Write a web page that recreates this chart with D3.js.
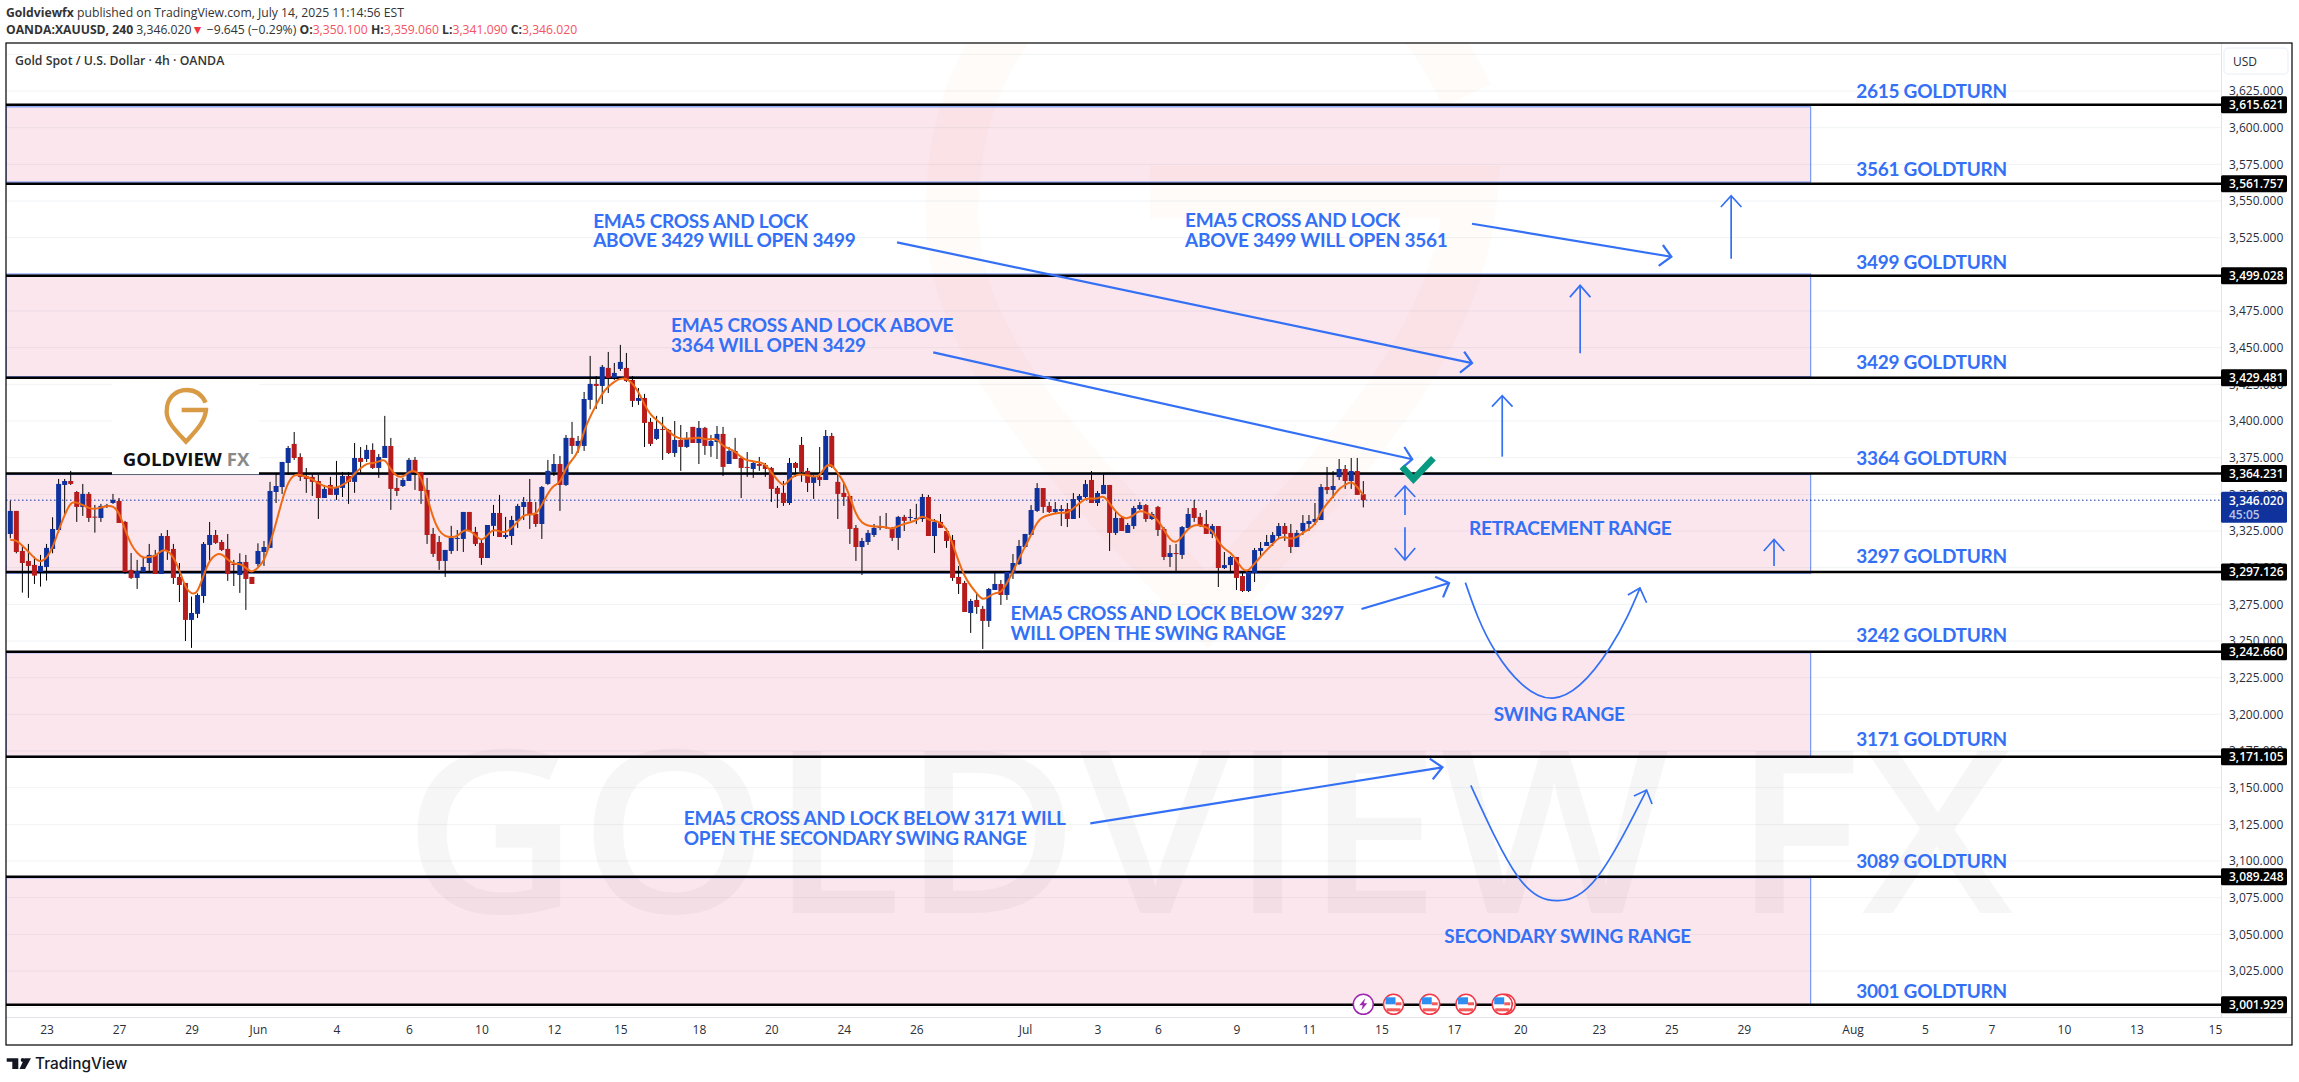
<!DOCTYPE html>
<html>
<head>
<title>XAUUSD 4h GOLDTURN levels</title>
<script src="https://d3js.org/d3.v7.min.js"></script>
<style>
    body { margin: 0; background: #fff; overflow: hidden; }
    svg { display: block; font-family: 'Open Sans', sans-serif; }
    .note { font-family: 'Lato', sans-serif; font-size: 19px; font-weight: 700; letter-spacing: -0.25px; fill: #3470f5; dominant-baseline: middle; }
    .axis text { font-family: 'Open Sans', sans-serif; font-size: 12px; fill: #2a2e39; }
</style>
</head>
<body>
<svg id="chart" width="2299" height="1082"></svg>
<script>
// candles (4h bars, May 22 to Jul 14)
const opens = [
3323,3338.7,3311.4,3304.6,3301.9,3297.1,3300.5,3312.8,3325.7,3356.4,
3359.1,3351.6,3341.4,3350.3,3334.8,3333.9,3342.1,3344.1,3345.5,3331.2,
3298.5,3293,3297.1,3303.2,3308.7,3295.7,3321.6,3312.8,3293.7,3289.6,
3264.4,3268.5,3280.7,3315.5,3322.3,3317.5,3312.8,3302.5,3295,3303.9,
3293.7,3302.5,3310.7,3313.5,3351.6,3355,3371.4,3384.4,3375.5,3362.5,
3361.9,3359.1,3347.5,3356.4,3349.6,3354.4,3362.5,3358.5,3374.8,3374.1,
3380.3,3368,3374.8,3383,3354.4,3355.7,3359.1,3373.5,3365.3,3353,
3323,3317.5,3304.6,3311.4,3319.6,3319.6,3338,3324.4,3316.9,3306.6,
3328.5,3337.3,3320.9,3321.6,3331.9,3341.4,3344.8,3336.6,3329.8,3357.1,
3365.3,3370.7,3356.4,3388.5,3383,3383,3414.4,3425.3,3423.9,3436.2,
3429.4,3435.5,3436.2,3428,3413.7,3415.7,3399.4,3387.8,3394.6,3393.9,
3378.2,3387.1,3382.3,3396,3385,3395.3,3383,3385.7,3391.2,3370.7,
3379.6,3374.8,3368.7,3367.3,3370.7,3370,3368,3354.4,3351,3344.1,
3371.4,3383.7,3366,3357.8,3361.9,3359.8,3389.8,3358.5,3351,3348.9,
3327.1,3314.1,3317.5,3322.3,3327.1,3327.8,3327.1,3320.3,3334.6,3333.9,
3333.5,3333.2,3348.2,3321.6,3331.2,3325,3318.9,3293.7,3289.6,3269.1,
3278,3271.9,3263.7,3284.8,3288.9,3281.4,3296.4,3302.5,3314.1,3322.3,
3338.7,3354.3,3342.1,3338,3338.7,3340,3333.2,3346.2,3348.2,3359.8,
3344.1,3350.2,3356.4,3323.7,3333.9,3323.7,3328.4,3340,3342.7,3333.2,
3341.4,3326.4,3307.3,3310,3308.7,3327,3340.7,3334.6,3329.8,3323,
3328.4,3299.8,3301.8,3307.3,3294.3,3284.1,3296.4,3311.4,3314.8,3316.8,
3321.6,3328.4,3323.7,3314.1,3325,3329.8,3331.2,3332.5,3355,3353,
3361.8,3367.3,3359.1,3365.9,3350.1];
const highs = [
3345.7,3338.7,3315.5,3316.2,3307.5,3308.7,3316.2,3334.4,3360.5,3360.5,
3366,3352.3,3357.1,3351.6,3342.8,3343.5,3343.5,3350.3,3347.5,3331.9,
3310,3305.3,3307.5,3316.2,3312.1,3323.5,3325.7,3316.2,3303.2,3289.6,
3280.3,3282.5,3317.5,3331.2,3325.7,3318.9,3323,3305.3,3309.8,3308.7,
3293.7,3316.6,3318.2,3358.5,3363.9,3372.1,3383,3392.5,3378,3368,
3363.9,3363.2,3356.4,3361.9,3372.8,3365.3,3365.3,3385,3382.3,3383.7,
3384.8,3377.5,3403.5,3388.5,3361.2,3361.2,3374.8,3375.5,3365.3,3361.2,
3327.1,3321.6,3312.1,3328.5,3325.7,3338,3338,3327.8,3319.6,3329.1,
3342.8,3349.6,3334.6,3335.3,3343.5,3348.2,3360.5,3344.8,3355.7,3373.5,
3377.5,3376.2,3390.5,3399.4,3389.8,3419.8,3444.4,3430.7,3438.2,3447.1,
3439.6,3451.9,3446.4,3430.7,3422.5,3418.5,3402.1,3403.5,3402.8,3394.6,
3400,3397.3,3392.5,3396,3400,3396,3390.5,3396.6,3396,3382.3,
3388.5,3376.2,3378.9,3372.8,3375.5,3371.4,3368.7,3355.7,3359.1,3374.8,
3372.1,3389.1,3368,3363.2,3382.3,3393.9,3391.9,3363.9,3357.8,3348.9,
3329.1,3320.3,3325.7,3329.8,3335.3,3337.3,3327.8,3335.3,3336,3340,
3343.5,3350.3,3349.6,3333.2,3336.6,3327.1,3322.3,3301.2,3291,3278.7,
3282.8,3273.9,3286.2,3297.1,3291.6,3297.1,3309.3,3318.9,3323,3342.7,
3357.7,3354.3,3344.8,3344.8,3342.7,3344.1,3350.9,3350.2,3359.8,3365.9,
3352.3,3363.9,3356.4,3338.7,3334.6,3330.5,3342.1,3344.8,3343.4,3338,
3342.1,3327.7,3315.5,3316.2,3328.4,3340.7,3346.2,3337.3,3339.3,3329.8,
3328.4,3310.7,3308,3307.3,3297.7,3298.4,3313.4,3317.5,3322.3,3324.3,
3330.5,3330.5,3329.8,3325.7,3335.9,3335.9,3344.1,3357,3368.7,3365.9,
3374.1,3370,3374.8,3374.8,3359.06];
const lows = [
3320,3309.8,3283,3279.4,3288.9,3287.1,3291.2,3309.8,3323.9,3336.6,
3356.4,3331.2,3335.3,3331.2,3323.9,3331.2,3340.7,3343.5,3330.5,3295.7,
3292.3,3285.5,3297.1,3297.1,3295.7,3295.7,3305.3,3288.9,3276.6,3250,
3245.3,3265.7,3276,3304.6,3316.2,3311.4,3291,3287.5,3282.8,3271.2,
3288.9,3300.7,3301.2,3313.5,3344.1,3350.3,3363.2,3373.5,3359.1,3351,
3348.9,3333.2,3347.5,3349.6,3346.2,3348.2,3343.5,3351,3364.6,3372.1,
3367.3,3361.2,3374.8,3339.4,3348.9,3355,3359.1,3353,3343.5,3316.2,
3307.3,3298.5,3293.7,3309.4,3311.4,3310.7,3324.4,3314.8,3301.9,3306.6,
3321.6,3320.9,3319.6,3315.5,3327.1,3332.5,3326.4,3327.8,3319.6,3356.4,
3362.5,3338.7,3355.7,3377.5,3378.2,3379.6,3408,3408.2,3411.6,3419.1,
3428,3434.1,3426.6,3409.6,3411,3382.3,3383,3387.1,3373.5,3377.5,
3375.5,3366,3381.6,3385,3370.7,3376.9,3375.5,3374.1,3362.5,3370.7,
3374.1,3347.5,3361.9,3361.2,3366,3361.9,3344.8,3340.7,3342.1,3342.8,
3361.9,3358.5,3351.6,3346.9,3355.7,3359.8,3368,3333.2,3342.1,3316.2,
3304.6,3295,3315.5,3320.9,3325.7,3326.4,3318.2,3312.1,3325,3331.9,
3329.8,3331.2,3321.6,3310,3327.1,3313.5,3291,3282.1,3269.8,3255.5,
3268.5,3244.6,3259.6,3284.8,3274.6,3278,3292.3,3301.8,3314.1,3322.3,
3338,3337.3,3337.3,3336.6,3328.4,3327.7,3333.2,3333.9,3347.5,3344.1,
3342.1,3350.2,3311.4,3322.3,3325,3323.7,3326.4,3339.3,3331.2,3332.5,
3321.6,3305.2,3300.5,3297.1,3305.9,3327,3331.2,3327.7,3323,3320.2,
3286.8,3299.1,3297.7,3284.8,3283.4,3283.4,3290.2,3308,3314.8,3314.8,
3320.2,3318.2,3310,3314.1,3322.3,3325,3329.1,3332.5,3350.2,3347.5,
3359.8,3353.7,3353.7,3349.6,3341.09];
const closes = [
3338.7,3310.7,3303.2,3301.2,3294.6,3301.2,3313.5,3326.4,3357.1,3359.1,
3357.1,3341.4,3350.3,3333.9,3334.4,3342.1,3342.5,3346.2,3330.5,3297.1,
3293,3297.8,3300.5,3308.7,3295.7,3321.6,3311.4,3293,3288.2,3264.4,
3269.1,3281.4,3316.2,3322.3,3316.9,3312.1,3295.7,3302.1,3303.9,3292.3,
3288.9,3311.4,3314.1,3352.3,3355.7,3372.1,3381.6,3374.8,3361.9,3360.5,
3358.5,3347.5,3353.7,3349.6,3355,3362.5,3358.5,3374.8,3372.1,3380.3,
3368,3375.5,3383,3353.7,3352.3,3359.8,3373.5,3364.6,3352.3,3322.3,
3309.4,3304.6,3312.1,3320.3,3320.3,3338,3325,3316.2,3306.6,3329.1,
3337.3,3320.9,3322.3,3332.5,3342.1,3344.8,3336,3329.8,3355,3366,
3370.7,3356.4,3388.5,3383,3386.4,3415,3425.3,3423.9,3436.9,3429.4,
3432.8,3440.3,3427.3,3413.7,3415.7,3398.7,3384.4,3394.6,3393.9,3378.2,
3387.1,3382.3,3388.5,3385,3395.3,3383,3386.4,3391.2,3368.7,3379.6,
3374.1,3368,3368,3371.4,3369.4,3367.3,3353.7,3350.3,3344.1,3371.4,
3368,3365.3,3357.8,3361.9,3359.8,3389.8,3368.7,3350.3,3348.2,3326.4,
3314.1,3318.2,3323.7,3327.1,3327.8,3327.1,3320.3,3334.6,3331.9,3334.6,
3333.9,3348.2,3321.6,3331.2,3327.1,3318.2,3293,3288.9,3269.8,3277.3,
3273.2,3263.7,3285.5,3288.9,3281.4,3297.1,3303.2,3314.8,3323,3339.3,
3354.3,3341.4,3338,3340,3340,3333.2,3346.8,3348.9,3357,3344.1,
3350.9,3356.4,3323.7,3333.9,3325,3329.1,3340.7,3342.7,3333.2,3336.6,
3325.7,3307.3,3310,3309.3,3327.7,3336.6,3333.9,3328.4,3323,3328.4,
3299.8,3301.8,3307.3,3293,3284.1,3297.1,3312,3313.4,3317.5,3322.3,
3328.4,3323,3314.1,3323.7,3330.5,3331.8,3333.2,3355,3353,3355.7,
3367.3,3359.1,3365.9,3349.6,3346.02];
const ema5 = [
3318.9,3318.9,3315,3311,3306.4,3303.5,3306.4,3313.2,3325.7,3336,
3345,3344.6,3342.8,3340.5,3339.8,3341,3342.1,3342.1,3338.2,3325.7,
3315.5,3309.8,3306.4,3307.5,3307.5,3312.1,3312.1,3307.5,3298.5,3286,
3281.9,3282.5,3295,3305.3,3309.1,3309.8,3305.3,3302.3,3303,3300,
3296.2,3300,3304.1,3316.6,3330.3,3346.2,3358.7,3363.7,3363.2,3362.1,
3360.3,3357.5,3355.3,3354.8,3354.1,3356.4,3358.7,3364.4,3367.8,3371.2,
3371.2,3372.3,3374.6,3366.6,3362.1,3361.6,3365.5,3366.6,3362.1,3348.5,
3333.7,3324.6,3321.2,3320.7,3321.2,3325.7,3325.7,3322.3,3317.8,3322.3,
3326.4,3324.6,3323.9,3326.9,3331.4,3336,3336.4,3336,3342.8,3350.7,
3356.6,3357.1,3368.5,3373.5,3378,3393.9,3403,3411,3418.9,3423.5,
3426.9,3429.1,3429.1,3425.7,3420,3411,3404.1,3400.7,3397.3,3392.8,
3389.4,3387.8,3387.8,3388.2,3388.9,3387.5,3387.5,3388.2,3382.5,3381.4,
3379.1,3375.3,3373,3372.5,3372.1,3370.7,3364.8,3359.8,3354.8,3360.3,
3363.2,3363.7,3362.8,3362.1,3362.1,3370,3370.7,3364.4,3358.7,3348.5,
3336,3330.3,3328.5,3328,3328,3327.5,3326.2,3328.5,3329.8,3331,
3332.1,3336,3332.5,3332.1,3330.7,3326.9,3316.6,3304.1,3293.9,3287.5,
3282.5,3277.5,3280.3,3283,3282.5,3289.3,3297.3,3306.4,3314.3,3322.3,
3331.4,3334.8,3335.9,3337,3337.7,3337,3340.5,3343.9,3347.3,3347.3,
3346.8,3349.6,3343.9,3338.2,3334.3,3333.2,3335.9,3339.3,3337.5,3335.9,
3332.5,3325.7,3318.9,3316.6,3321.2,3326.8,3329.1,3329.1,3327.5,3325.7,
3317.7,3312.5,3310.5,3305.2,3298.4,3297.3,3303,3307.5,3312,3316.2,
3320.5,3321.2,3319.3,3320.7,3323.9,3326.2,3329.1,3338.2,3343.9,3348.4,
3354.1,3356.4,3359.1,3355.2,3349.6];

// horizontal levels and the pink zones between them
const levels = [3615.621, 3561.757, 3499.028, 3429.481, 3364.231, 3297.126, 3242.66, 3171.105, 3089.248, 3001.929];
const zoneTops = [3614.2, 3500.2, 3363.5, 3242, 3088.6];
const zoneBottoms = [3562.9, 3430.2, 3296.2, 3171.4, 3001.6];
const goldturnNames = ["2615 GOLDTURN", "3561 GOLDTURN", "3499 GOLDTURN", "3429 GOLDTURN", "3364 GOLDTURN", "3297 GOLDTURN", "3242 GOLDTURN", "3171 GOLDTURN", "3089 GOLDTURN", "3001 GOLDTURN"];
const goldturnPrices = [3625, 3571.8, 3509, 3440.2, 3374.8, 3308, 3254.1, 3183.2, 3100.3, 3011.4];
const goldturnBar = 305.6;
const lastPrice = 3346.02;

// axes
const gridPrices = d3.range(3000, 3651, 25);
const priceTicks = d3.range(3025, 3626, 25);
const tickBars = [6, 18, 30, 41, 54, 66, 78, 90, 101, 114, 126, 138, 150, 168, 180, 190, 203, 215, 227, 239, 250, 263, 275, 287, 305, 317, 328, 340, 352, 365];
const tickLabels = ["23", "27", "29", "Jun", "4", "6", "10", "12", "15", "18", "20", "24", "26", "Jul", "3", "6", "9", "11", "15", "17", "20", "23", "25", "29", "Aug", "5", "7", "10", "13", "15"];
const eventBars = [229, 235, 241, 247.5, 247];

// drawings, anchored in bar / price like the originals
const noteTexts = [
    ["EMA5 CROSS AND LOCK", 96.5, 3536.6], ["ABOVE 3429 WILL OPEN 3499", 96.5, 3523.4],
    ["EMA5 CROSS AND LOCK ABOVE", 109.4, 3465.5], ["3364 WILL OPEN 3429", 109.4, 3451.8],
    ["EMA5 CROSS AND LOCK", 194.5, 3537.5], ["ABOVE 3499 WILL OPEN 3561", 194.5, 3523.9],
    ["EMA5 CROSS AND LOCK BELOW 3297", 165.6, 3269.6], ["WILL OPEN THE SWING RANGE", 165.6, 3255.9],
    ["EMA5 CROSS AND LOCK BELOW 3171 WILL", 111.5, 3129.8], ["OPEN THE SECONDARY SWING RANGE", 111.5, 3116.2],
    ["SWING RANGE", 245.6, 3200.2], ["SECONDARY SWING RANGE", 237.4, 3048.9], ["RETRACEMENT RANGE", 241.5, 3327.2]
];
const thickArrows = [
    [[[146.8, 3521.8], [242, 3439.5]], [[240.7, 3447.3], [242, 3439.5], [240, 3433]]],
    [[[152.8, 3446.8], [232.1, 3373.9]], [[230.8, 3382.3], [232.1, 3373.9], [230.3, 3367.5]]],
    [[[242, 3534.5], [275, 3512]], [[273.6, 3520], [275, 3512], [272.9, 3505.7]]],
    [[[223.7, 3271.8], [238.2, 3289.6]], [[235.9, 3293.9], [238.2, 3289.6], [237.2, 3279.8]]],
    [[[178.8, 3125.7], [237.1, 3163.9]], [[235, 3169.8], [237.1, 3163.9], [235.5, 3155.7]]]
];
const thinArrows = [
    [[[284.9, 3510.7], [284.9, 3553.6]], [[283.2, 3545.9], [284.9, 3553.6], [286.6, 3545.9]]],
    [[[259.9, 3446.2], [259.9, 3492.5]], [[258.2, 3484.5], [259.9, 3492.5], [261.6, 3484.5]]],
    [[[247, 3375.7], [247, 3417.3]], [[245.3, 3409.8], [247, 3417.3], [248.7, 3409.8]]],
    [[[292, 3301.1], [292, 3319.2]], [[290.3, 3311.4], [292, 3319.2], [293.7, 3311.4]]],
    [[[230.9, 3335.9], [230.9, 3355.7]], [[229.2, 3348.2], [230.9, 3355.7], [232.6, 3348.2]]],
    [[[230.9, 3327.5], [230.9, 3305.2]], [[229.2, 3313.4], [230.9, 3305.2], [232.6, 3313.4]]]
];
const swingCurves = [
    [[240.9, 3289.8], [245.9, 3242.7], [255.4, 3211.1], [264.8, 3245.2], [269.8, 3286.1]],
    [[241.8, 3151.6], [249.6, 3089.3], [256.2, 3073], [262.8, 3089.3], [270.9, 3148.4]]
];
const swingHeads = [
    [[267.8, 3281.4], [269.8, 3286.1], [270.9, 3276.1]],
    [[268.8, 3144.3], [270.9, 3148.4], [271.8, 3138.9]]
];
const checkMark = [[230.4, 3368.8], [232.3, 3360.3], [235.6, 3374.6]];

const plotLeft = 6, plotRight = 2221, plotTop = 43, plotBottom = 1017, frameRight = 2292, frameBottom = 1045;
const green = "#089981", red = "#b71c1c", blue = "#0f329c", noteBlue = "#3470f5";

const x = d3.scaleLinear().domain([0, 224]).range([10.3, 1363.3]);
const y = d3.scaleLinear().domain([3625, 3000]).range([91, 1007.7]);

const svg = d3.select("#chart");
svg.append("rect").attr("width", 2299).attr("height", 1082).attr("fill", "#fff");
svg.append("clipPath").attr("id", "plot").append("rect")
    .attr("x", plotLeft).attr("y", plotTop).attr("width", plotRight - plotLeft).attr("height", plotBottom - plotTop);
const plot = svg.append("g").attr("clip-path", "url(#plot)");

// grid
plot.selectAll(".grid").data(gridPrices).enter().append("line")
    .attr("x1", plotLeft).attr("x2", plotRight)
    .attr("y1", d => y(d)).attr("y2", d => y(d))
    .attr("stroke", "#f0f3f5").attr("stroke-width", 1);

// watermarks
const logoPath = "M545,90 H618 C615,125 590,150 558,185 C525,150 500,125 500,95 C500,55 525,30 560,30 C585,30 605,42 617,68";
plot.append("path").attr("d", logoPath)
    .attr("transform", "translate(-1248,-204) scale(4.4)")
    .attr("fill", "none").attr("stroke", "#e8963c").attr("stroke-opacity", 0.035).attr("stroke-width", 12);
plot.append("text").text("GOLDVIEW FX")
    .attr("x", 403).attr("y", 913)
    .attr("textLength", 1610).attr("lengthAdjust", "spacingAndGlyphs")
    .attr("font-size", 226).attr("font-weight", 600)
    .attr("fill", "#000").attr("fill-opacity", 0.035);

// zones
plot.selectAll(".zone").data(zoneTops).enter().append("rect")
    .attr("x", plotLeft).attr("width", 1810.7 - plotLeft)
    .attr("y", d => y(d))
    .attr("height", (d, i) => y(zoneBottoms[i]) - y(d))
    .attr("fill", "rgba(220,30,90,0.11)")
    .attr("stroke", "#5b86f5").attr("stroke-width", 1);

// levels
plot.selectAll(".level").data(levels).enter().append("line")
    .attr("x1", plotLeft).attr("x2", plotRight)
    .attr("y1", d => y(d)).attr("y2", d => y(d))
    .attr("stroke", "#000").attr("stroke-width", 2.5);

// last price
plot.append("line")
    .attr("x1", plotLeft).attr("x2", plotRight)
    .attr("y1", y(lastPrice)).attr("y2", y(lastPrice))
    .attr("stroke", blue).attr("stroke-width", 1).attr("stroke-dasharray", "1.5 2.5");

// candles
const bars = opens.map((d, i) => ({ i: i, o: d, h: highs[i], l: lows[i], c: closes[i] }));
const candles = plot.selectAll(".candle").data(bars).enter().append("g");
candles.append("line")
    .attr("x1", d => x(d.i)).attr("x2", d => x(d.i))
    .attr("y1", d => y(d.h)).attr("y2", d => y(d.l))
    .attr("stroke", "#000").attr("stroke-width", 1);
candles.append("rect")
    .attr("x", d => x(d.i) - 2.5).attr("width", 5)
    .attr("y", d => y(Math.max(d.o, d.c)))
    .attr("height", d => Math.max(1, Math.abs(y(d.o) - y(d.c))))
    .attr("fill", d => d.c >= d.o ? blue : red);

// ema
plot.append("path")
    .attr("d", d3.line().x((d, i) => x(i)).y(d => y(d)).curve(d3.curveBasis)(ema5))
    .attr("fill", "none").attr("stroke", "#ef6a14").attr("stroke-width", 2);

// logo box
const logo = plot.append("g");
logo.append("rect").attr("x", 112).attr("y", 379.5).attr("width", 147).attr("height", 94.8).attr("fill", "#fff");
logo.append("path").attr("d", logoPath)
    .attr("transform", "translate(0,380) scale(0.3333)")
    .attr("fill", "none").attr("stroke", "#d99a45").attr("stroke-width", 13);
const logoText = logo.append("text")
    .attr("x", 122.7).attr("y", 466)
    .attr("textLength", 126.6).attr("lengthAdjust", "spacingAndGlyphs")
    .attr("font-size", 18.5).attr("font-weight", 700).attr("fill", "#111");
logoText.append("tspan").text("GOLDVIEW ");
logoText.append("tspan").attr("fill", "#8a8a8a").text("FX");

// drawings
const toPx = d3.line().x(d => x(d[0])).y(d => y(d[1]));
const toCurve = d3.line().x(d => x(d[0])).y(d => y(d[1])).curve(d3.curveNatural);
function drawArrows(list, width) {
    list.forEach(a => a.forEach(seg => {
        plot.append("path").attr("d", toPx(seg))
            .attr("fill", "none").attr("stroke", noteBlue).attr("stroke-width", width);
    }));
}
drawArrows(thickArrows, 2.2);
drawArrows(thinArrows, 1.7);
swingCurves.forEach((c, i) => {
    plot.append("path").attr("d", toCurve(c))
        .attr("fill", "none").attr("stroke", noteBlue).attr("stroke-width", 1.7);
    plot.append("path").attr("d", toPx(swingHeads[i]))
        .attr("fill", "none").attr("stroke", noteBlue).attr("stroke-width", 1.7);
});
plot.append("path").attr("d", toPx(checkMark))
    .attr("fill", "none").attr("stroke", green).attr("stroke-width", 6.5);

plot.selectAll(".note").data(noteTexts).enter().append("text")
    .attr("class", "note")
    .attr("x", d => x(d[1])).attr("y", d => y(d[2]) + 2.5)
    .text(d => d[0]);
plot.selectAll(".turn").data(goldturnNames).enter().append("text")
    .attr("class", "note")
    .attr("x", x(goldturnBar)).attr("y", (d, i) => y(goldturnPrices[i]) + 2.5)
    .text(d => d);

// event icons
const icons = svg.append("g");
icons.append("circle").attr("cx", x(224)).attr("cy", 1004.3).attr("r", 10)
    .attr("fill", "#fff").attr("stroke", "#9c27b0").attr("stroke-width", 1.5);
icons.append("path").attr("transform", `translate(${x(224)},1004.3)`)
    .attr("d", "M2,-6 L-4,1 H-0.5 L-2,6 L4,-1 H0.5 Z").attr("fill", "#9c27b0");
const flags = icons.selectAll(".flag").data(eventBars).enter().append("g")
    .attr("transform", d => `translate(${x(d)},1004.3)`);
flags.append("circle").attr("r", 10).attr("fill", "#fff").attr("stroke", "#f23645").attr("stroke-width", 1.5);
flags.append("rect").attr("x", -8).attr("y", -7).attr("width", 10).attr("height", 7).attr("fill", "#2e8ff0");
flags.append("rect").attr("x", 2).attr("y", -2).attr("width", 6).attr("height", 3).attr("fill", "#f45b5b");
flags.append("rect").attr("x", -7).attr("y", 4).attr("width", 14).attr("height", 3).attr("fill", "#f45b5b");

// price axis
svg.append("rect").attr("x", plotRight).attr("y", plotTop).attr("width", frameRight - plotRight).attr("height", frameBottom - plotTop).attr("fill", "#fff");
svg.append("rect").attr("x", plotLeft).attr("y", plotBottom).attr("width", frameRight - plotLeft).attr("height", frameBottom - plotBottom).attr("fill", "#fff");

const priceAxis = svg.append("g").attr("class", "axis")
    .attr("transform", `translate(${plotRight},0)`)
    .call(d3.axisRight(y).tickValues(priceTicks).tickSize(0).tickPadding(8).tickFormat(d3.format(",.3f")));
priceAxis.select(".domain").remove();

svg.append("line").attr("x1", plotRight + 0.5).attr("x2", plotRight + 0.5).attr("y1", plotTop).attr("y2", plotBottom)
    .attr("stroke", "#e0e3eb");
svg.append("line").attr("x1", plotLeft).attr("x2", frameRight).attr("y1", plotBottom + 0.5).attr("y2", plotBottom + 0.5)
    .attr("stroke", "#e0e3eb");

svg.append("rect").attr("x", 2224).attr("y", 48).attr("width", 64).attr("height", 26).attr("rx", 4)
    .attr("fill", "#fff").attr("stroke", "#f0f3fa").attr("stroke-width", 1.5);
svg.append("text").attr("x", 2233).attr("y", 66).attr("font-size", 12).attr("fill", "#2a2e39").text("USD");

const tags = svg.selectAll(".tag").data(levels).enter().append("g")
    .attr("transform", d => `translate(${plotRight},${y(d)})`);
tags.append("rect").attr("x", 0).attr("y", -8.5).attr("width", 66).attr("height", 17).attr("rx", 1.5).attr("fill", "#000");
tags.append("text").attr("x", 8).attr("y", 4.5).attr("font-size", 12).attr("font-weight", 600).attr("fill", "#fff")
    .text(d => d3.format(",.3f")(d));

const lastTag = svg.append("g").attr("transform", `translate(${plotRight},${y(lastPrice)})`);
lastTag.append("rect").attr("x", 0).attr("y", -8.5).attr("width", 66).attr("height", 31).attr("rx", 1.5).attr("fill", blue);
lastTag.append("text").attr("x", 8).attr("y", 4.5).attr("font-size", 12).attr("font-weight", 600).attr("fill", "#fff")
    .text(d3.format(",.3f")(lastPrice));
lastTag.append("text").attr("x", 8).attr("y", 18.5).attr("font-size", 12).attr("font-weight", 600).attr("fill", "#b8c4e6")
    .text("45:05");

// time axis
const timeAxis = svg.append("g").attr("class", "axis")
    .attr("transform", `translate(0,${plotBottom})`)
    .call(d3.axisBottom(x).tickValues(tickBars).tickSize(0).tickPadding(8).tickFormat((d, i) => tickLabels[i]));
timeAxis.select(".domain").remove();

// frame
svg.append("rect").attr("x", plotLeft).attr("y", plotTop).attr("width", frameRight - plotLeft).attr("height", frameBottom - plotTop)
    .attr("fill", "none").attr("stroke", "#000").attr("stroke-width", 1.2);

// header
const line1 = svg.append("text").attr("x", 6).attr("y", 17).attr("font-size", 12.2).attr("fill", "#333");
line1.append("tspan").attr("font-weight", 700).text("Goldviewfx");
line1.append("tspan").text(" published on TradingView.com, July 14, 2025 11:14:56 EST");
const line2 = svg.append("text").attr("x", 6).attr("y", 34).attr("font-size", 12.2).attr("fill", "#333");
line2.append("tspan").attr("font-weight", 700).text("OANDA:XAUUSD, 240");
line2.append("tspan").text("  3,346.020");
line2.append("tspan").attr("fill", "#f23645").text("▼");
line2.append("tspan").text(" −9.645 (−0.29%)  ");
[["O:", "3,350.100"], ["H:", "3,359.060"], ["L:", "3,341.090"], ["C:", "3,346.020"]].forEach(p => {
    line2.append("tspan").attr("font-weight", 700).text(p[0]);
    line2.append("tspan").attr("fill", "#f7525f").text(p[1] + " ");
});
svg.append("text").attr("x", 15).attr("y", 65).attr("font-size", 12.3).attr("font-weight", 600).attr("fill", "#333")
    .text("Gold Spot / U.S. Dollar · 4h · OANDA");

// footer logo
const tv = svg.append("g").attr("fill", "#131722");
tv.append("path").attr("d", "M6.7,1058.3 H18.3 V1069 H12.3 V1061.7 H6.7 Z");
tv.append("circle").attr("cx", 22.7).attr("cy", 1060).attr("r", 2);
tv.append("path").attr("d", "M24.5,1058.3 H31 L25,1069 H19.5 Z");
tv.append("text").attr("x", 35).attr("y", 1069).attr("font-size", 15.4).attr("font-weight", 500)
    .attr("font-family", "Inter, sans-serif").text("TradingView");
</script>
</body>
</html>
